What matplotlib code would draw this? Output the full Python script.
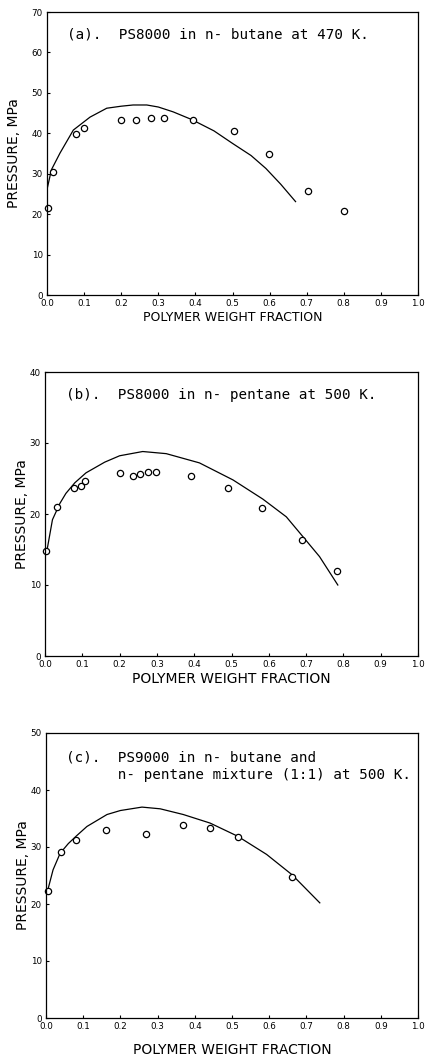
import numpy as np
import matplotlib.pyplot as plt

# ---- data ----
# (a) PS8000 in n-butane at 470 K
a_x = [0.003, 0.016, 0.077, 0.100, 0.200, 0.240, 0.280, 0.315, 0.394, 0.504, 0.598, 0.703, 0.800]
a_y = [21.4, 30.5, 39.8, 41.2, 43.4, 43.2, 43.7, 43.8, 43.2, 40.5, 34.8, 25.8, 20.9]
a_cx = [0.001, 0.012, 0.035, 0.071, 0.116, 0.161, 0.200, 0.232, 0.269, 0.300, 0.340,
        0.390, 0.450, 0.500, 0.550, 0.590, 0.630, 0.670]
a_cy = [26.5, 31.0, 35.1, 40.8, 44.0, 46.2, 46.7, 47.0, 47.0, 46.5, 45.3,
        43.4, 40.6, 37.5, 34.5, 31.3, 27.4, 23.1]

# (b) PS8000 in n-pentane at 500 K
b_x = [0.003, 0.032, 0.079, 0.097, 0.106, 0.202, 0.235, 0.254, 0.277, 0.298,
       0.392, 0.491, 0.582, 0.690, 0.783]
b_y = [14.85, 20.96, 23.6, 24.0, 24.6, 25.8, 25.3, 25.7, 25.9, 25.9,
       25.3, 23.6, 20.9, 16.4, 12.0]
b_cx = [0.004, 0.020, 0.040, 0.056, 0.080, 0.110, 0.160, 0.200, 0.262, 0.325, 0.414, 0.504,
        0.584, 0.647, 0.690, 0.736, 0.785]
b_cy = [14.5, 19.2, 21.5, 22.9, 24.4, 25.8, 27.3, 28.2, 28.8, 28.5, 27.2, 24.8,
        22.1, 19.6, 16.9, 14.0, 10.0]

# (c) PS9000 in n-butane / n-pentane (1:1) at 500 K
c_x = [0.005, 0.041, 0.081, 0.160, 0.269, 0.367, 0.441, 0.515, 0.662]
c_y = [22.2, 29.2, 31.3, 32.9, 32.3, 33.9, 33.3, 31.7, 24.7]
c_cx = [0.005, 0.019, 0.038, 0.060, 0.081, 0.110, 0.164, 0.200, 0.258, 0.307, 0.369,
        0.441, 0.515, 0.593, 0.662, 0.736]
c_cy = [22.5, 26.0, 28.9, 30.6, 31.9, 33.6, 35.7, 36.4, 37.0, 36.7, 35.7,
        34.2, 31.9, 28.7, 25.1, 20.2]

xticks = np.round(np.arange(0, 1.01, 0.1), 1)
W, H = 429, 1057

panels = [
    # pixel box (left, top, right, bottom) of each plot frame
    dict(box=(47, 12, 418, 295), ymax=70, ystep=10,
         pts=(a_x, a_y), curve=(a_cx, a_cy), ty=0.92,
         title=["(a).  PS8000 in n- butane at 470 K."], xl=9, xpad=2, ypad=7.5),
    dict(box=(45, 372, 418, 656), ymax=40, ystep=10,
         pts=(b_x, b_y), curve=(b_cx, b_cy), ty=0.92,
         title=["(b).  PS8000 in n- pentane at 500 K."], xl=10, xpad=2, ypad=0.5),
    dict(box=(46, 733, 418, 1018), ymax=50, ystep=10,
         pts=(c_x, c_y), curve=(c_cx, c_cy), ty=0.884,
         title=["(c).  PS9000 in n- butane and",
                "      n- pentane mixture (1:1) at 500 K."], xl=10, xpad=8.5, ypad=0.5),
]

fig = plt.figure(figsize=(W / 100, H / 100), dpi=100)

for p in panels:
    l, t, r, b = p["box"]
    ax = fig.add_axes([l / W, 1 - b / H, (r - l) / W, (b - t) / H])
    ax.plot(p["curve"][0], p["curve"][1], color="black", lw=0.9)
    ax.plot(p["pts"][0], p["pts"][1], "o", mfc="white", mec="black",
            ms=4.5, mew=0.9, clip_on=False)
    ax.set_xlim(0, 1)
    ax.set_ylim(0, p["ymax"])
    ax.set_xticks(xticks)
    ax.set_xticklabels(["%.1f" % v for v in xticks])
    ax.set_yticks(np.arange(0, p["ymax"] + 1, p["ystep"]))
    ax.tick_params(direction="in", length=2.5, width=0.8, labelsize=6.3, pad=3)
    for s in ax.spines.values():
        s.set_linewidth(0.9)
    ax.set_xlabel("POLYMER WEIGHT FRACTION", fontsize=p["xl"], labelpad=p["xpad"])
    ax.set_ylabel("PRESSURE, MPa", fontsize=10, labelpad=p["ypad"])
    ax.text(0.055, p["ty"], "\n".join(p["title"]), transform=ax.transAxes,
            family="DejaVu Sans Mono", fontsize=10.3, va="center", ha="left",
            linespacing=1.3)

fig.savefig("out.png", dpi=100)
